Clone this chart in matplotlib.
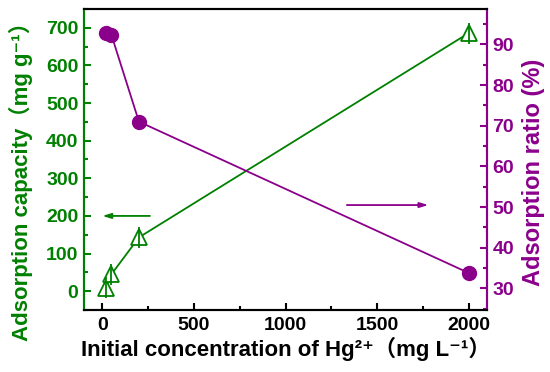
import matplotlib
matplotlib.use("Agg")
import matplotlib.pyplot as plt
from matplotlib.ticker import MultipleLocator

# Data
conc = [20, 50, 200, 2000]
capacity = [9, 45, 143, 686]
capacity_err = [28, 28, 28, 28]
ratio = [92.8, 92.3, 71.0, 33.8]

green = "#008000"
purple = "#8B008B"
fam = ["Liberation Sans", "Noto Sans CJK SC", "DejaVu Sans"]
plt.rcParams["font.family"] = fam
plt.rcParams["font.weight"] = "bold"

fig = plt.figure(figsize=(5.5, 3.72), dpi=100)
ax = fig.add_axes([0.1527, 0.1667, 0.7328, 0.8091])
ax2 = ax.twinx()

ax.plot(conc, capacity, color=green, lw=1.3, zorder=2)
ax.plot(conc, capacity, ls="none", marker="^", ms=12, mfc="white", mec=green, mew=1.3, zorder=3)
ax.errorbar(conc, capacity, yerr=capacity_err, fmt="none", ecolor=green, elinewidth=1.3, capsize=0, zorder=4)

ax2.plot(conc, ratio, color=purple, lw=1.3, marker="o", ms=10, mfc=purple, mec=purple)

ax.set_xlim(-100, 2100)
ax.set_ylim(-50, 750)
ax2.set_ylim(24.7, 98.7)

ax.xaxis.set_major_locator(MultipleLocator(500))
ax.xaxis.set_minor_locator(MultipleLocator(250))
ax.yaxis.set_major_locator(MultipleLocator(100))
ax.yaxis.set_minor_locator(MultipleLocator(50))
ax2.yaxis.set_major_locator(MultipleLocator(10))
ax2.yaxis.set_minor_locator(MultipleLocator(5))

ax.tick_params(axis="x", which="both", direction="in", top=False, colors="black", labelsize=14, width=1.5)
ax.tick_params(axis="x", which="major", length=5, pad=5)
ax.tick_params(axis="x", which="minor", length=3)
ax.tick_params(axis="y", which="both", direction="in", colors=green, labelsize=14, width=1.5)
ax.tick_params(axis="y", which="major", length=5, pad=4)
ax.tick_params(axis="y", which="minor", length=3)
ax2.tick_params(axis="y", which="both", direction="in", colors=purple, labelsize=14, width=1.5)
ax2.tick_params(axis="y", which="major", length=5, pad=4)
ax2.tick_params(axis="y", which="minor", length=3)

for a in (ax, ax2):
    for s in a.spines.values():
        s.set_linewidth(1.5)
    a.spines["top"].set_color("black")
    a.spines["bottom"].set_color("black")
    a.spines["left"].set_color(green)
    a.spines["right"].set_color(purple)

for lab in ax.get_xticklabels() + ax.get_yticklabels() + ax2.get_yticklabels():
    lab.set_fontweight("bold")

ax.set_ylabel("Adsorption capacity（mg g⁻¹）", color=green, fontsize=16, fontweight="bold")
ax.yaxis.set_label_coords(-0.127, 0.445)
ax2.set_ylabel("Adsorption ratio (%)", color=purple, fontsize=17, fontweight="bold")
ax2.yaxis.set_label_coords(1.087, 0.458)
ax.set_xlabel("Initial concentration of Hg²⁺（mg L⁻¹）", color="black", fontsize=16, fontweight="bold", labelpad=2)

ax.annotate("", xy=(0, 200), xytext=(260, 200),
            arrowprops=dict(arrowstyle="-|>,head_length=0.5,head_width=0.15", color=green, lw=1.3,
                            shrinkA=0, shrinkB=0))
ax2.annotate("", xy=(1780, 50.5), xytext=(1335, 50.5),
             arrowprops=dict(arrowstyle="-|>,head_length=0.5,head_width=0.15", color=purple, lw=1.3,
                             shrinkA=0, shrinkB=0))

fig.savefig("out.png", dpi=100)
